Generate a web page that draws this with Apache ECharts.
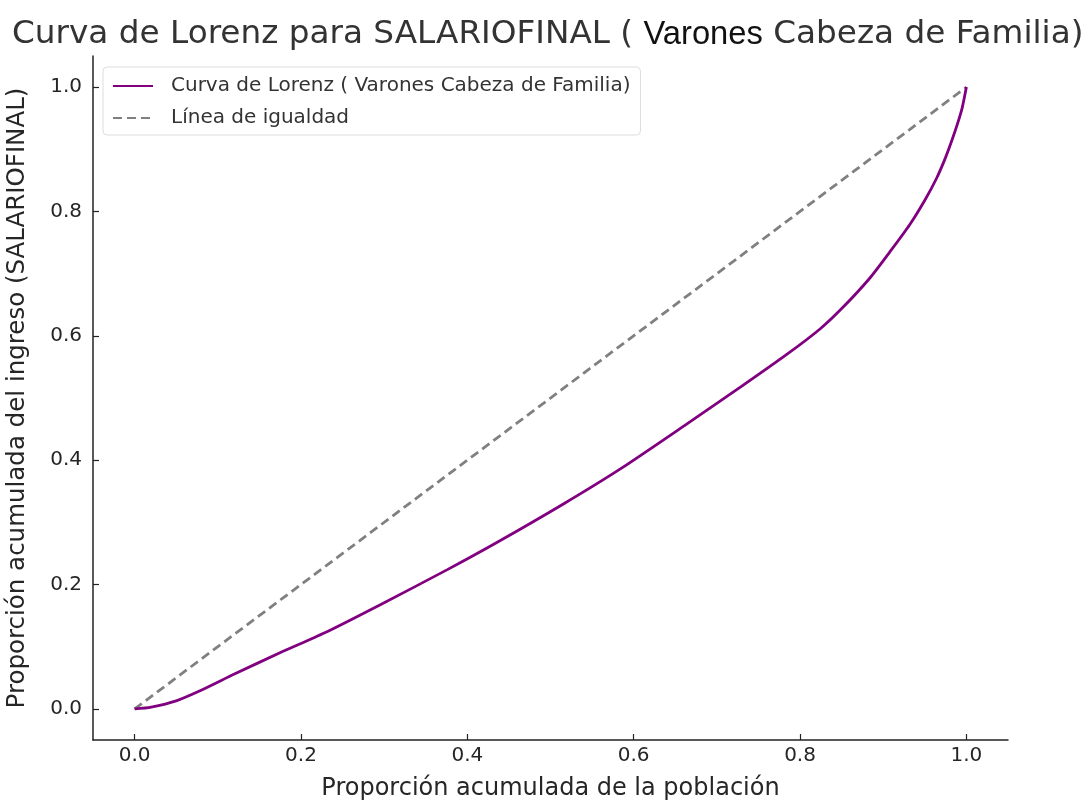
<!DOCTYPE html>
<html>
<head>
<meta charset="utf-8">
<script src="https://cdn.jsdelivr.net/npm/echarts@6/dist/echarts.min.js"></script>
<style>html,body{margin:0;padding:0;background:#fff}#c{width:1089px;height:803px}</style>
</head>
<body>
<div id="c"></div>
<script>
const lorenzX = [0, 0.02, 0.05, 0.08, 0.12, 0.176, 0.228, 0.296, 0.376, 0.436, 0.516, 0.584, 0.668, 0.73, 0.784, 0.824, 0.851, 0.884, 0.908, 0.932, 0.95, 0.964, 0.975, 0.983, 0.99, 0.995, 1.0];
const lorenzY = [0, 0.003, 0.013, 0.030, 0.056, 0.091, 0.122, 0.168, 0.224, 0.268, 0.330, 0.386, 0.462, 0.519, 0.570, 0.611, 0.645, 0.693, 0.735, 0.779, 0.818, 0.853, 0.887, 0.916, 0.944, 0.967, 1.0];
const equalX = [0, 1];
const equalY = [0, 1];
const tickValues = [0, 0.2, 0.4, 0.6, 0.8, 1.0];

const FONT = 'DejaVu Sans';
const chart = echarts.init(document.getElementById('c'));
const axisCommon = {
  type: 'value', min: -0.05, max: 1.05,
  splitLine: {show: false},
  axisLine: {show: true, onZero: false, lineStyle: {color: '#222', width: 1.5}},
  axisTick: {show: true, inside: true, length: 6, customValues: tickValues, lineStyle: {color: '#222', width: 1.2}},
  axisLabel: {customValues: tickValues, fontFamily: FONT, fontSize: 20, color: '#262626',
    formatter: v => v.toFixed(1)},
  nameLocation: 'middle',
  nameTextStyle: {fontFamily: FONT, fontSize: 24.5, color: '#262626'}
};
chart.setOption({
  animation: false,
  title: {
    text: '{a|Curva de Lorenz para SALARIOFINAL ( }{b|Varones}{a| Cabeza de Familia)}',
    left: 7, top: 13,
    textStyle: {fontWeight: 'normal', rich: {
      a: {fontFamily: FONT, fontSize: 32.7, color: '#333', fontWeight: 'normal'},
      b: {fontFamily: 'Liberation Sans Narrow, Liberation Sans', fontSize: 32.7, color: '#111', fontWeight: 'normal'}
    }}
  },
  legend: {
    orient: 'vertical', left: 103, top: 67,
    padding: [9, 10, 7, 9], itemGap: 12,
    itemWidth: 40, itemHeight: 14,
    borderColor: '#ddd', borderWidth: 1, borderRadius: 4,
    backgroundColor: '#fff',
    itemStyle: {color: 'transparent', borderColor: 'transparent', borderWidth: 0, opacity: 0},
    textStyle: {fontFamily: FONT, fontSize: 20, color: '#333', padding: [0, 0, 0, 13]},
    data: ['Curva de Lorenz ( Varones Cabeza de Familia)', 'Línea de igualdad']
  },
  grid: {left: 93, right: 81, top: 56, bottom: 63, outerBoundsMode: 'none', containLabel: false},
  xAxis: Object.assign({}, axisCommon, {
    name: 'Proporción acumulada de la población', nameGap: 37,
    nameTextStyle: {fontFamily: FONT, fontSize: 24, color: '#262626'},
    axisLabel: Object.assign({}, axisCommon.axisLabel, {margin: 6})
  }),
  yAxis: Object.assign({}, axisCommon, {
    name: 'Proporción acumulada del ingreso (SALARIOFINAL)', nameGap: 63,
    axisLabel: Object.assign({}, axisCommon.axisLabel, {margin: 11})
  }),
  series: [
    {
      name: 'Curva de Lorenz ( Varones Cabeza de Familia)', type: 'line',
      data: lorenzX.map((x, i) => [x, lorenzY[i]]),
      showSymbol: false, symbol: 'none', smooth: 0.25,
      lineStyle: {color: '#800080', width: 2.8}, itemStyle: {color: '#800080'}, z: 3
    },
    {
      name: 'Línea de igualdad', type: 'line',
      data: equalX.map((x, i) => [x, equalY[i]]),
      showSymbol: false, symbol: 'none',
      lineStyle: {color: '#808080', width: 2.8, type: [9, 5]}, itemStyle: {color: '#808080'}, z: 2
    }
  ]
});
</script>
</body>
</html>
